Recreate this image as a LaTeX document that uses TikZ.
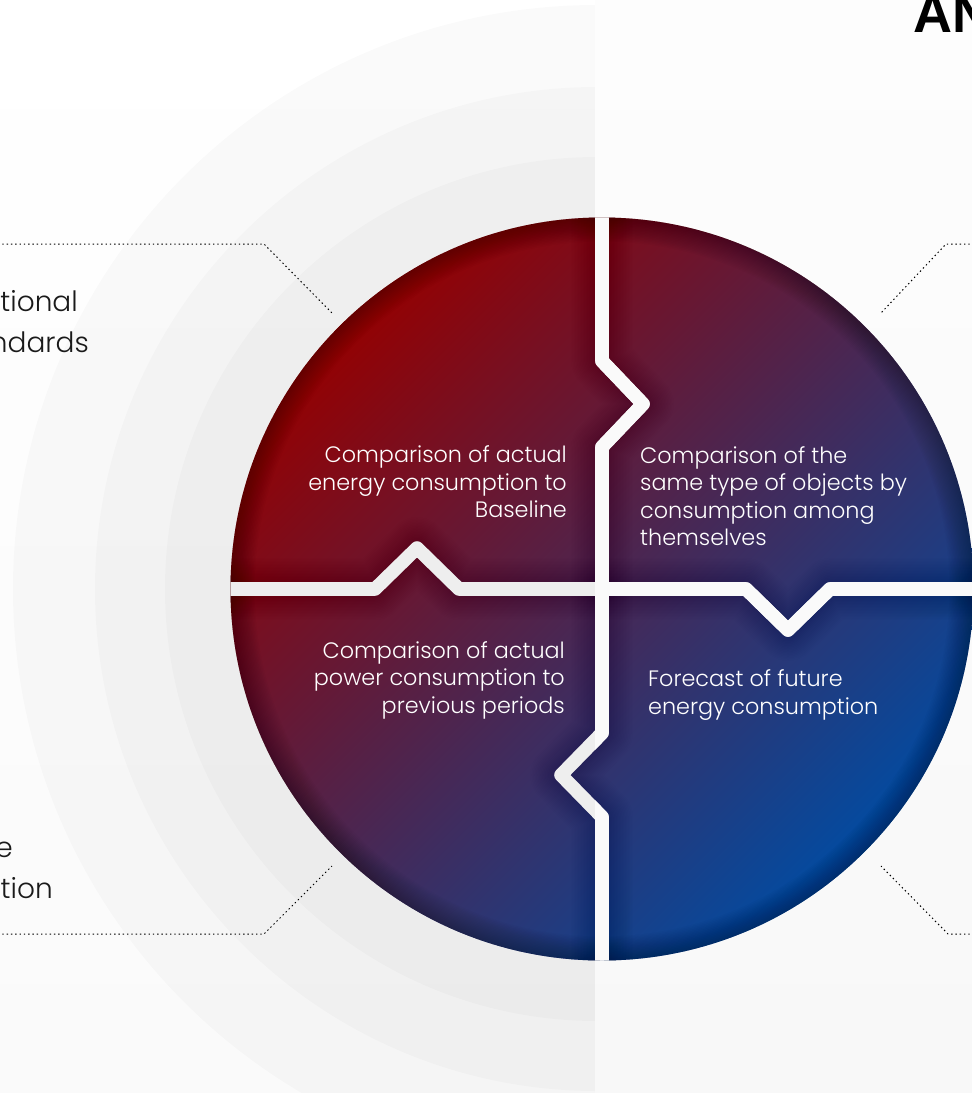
\documentclass[tikz,border=0pt]{standalone}
\usepackage{fontspec}
\setmainfont{Poppins Light}
\newfontfamily\titlefont[Scale=1]{Liberation Sans}
\definecolor{bgbottom}{HTML}{FAFAFA}
\definecolor{bandl}{HTML}{EEEEEE}
\definecolor{bandr}{HTML}{FAFAFA}
\definecolor{paneltop}{HTML}{FDFDFD}
\definecolor{panelbottom}{HTML}{F8F8F8}
\definecolor{startred}{HTML}{960000}
\definecolor{endblue}{HTML}{004CA3}
\definecolor{inktext}{HTML}{1A1A1A}
\tikzset{
  inner/.style={text=white,font=\fontsize{22.3}{27.5}\selectfont,inner sep=0pt,align=#1},
  outer/.style={text=inktext,font=\fontsize{28}{41}\selectfont,inner sep=0pt,align=right},
  leader/.style={draw=black,line width=1pt,dash pattern=on 1.4pt off 2.9pt},
  bandline/.style={line width=13.6pt,line join=round,line cap=butt},
  ringdisc/.style={fill=black,fill opacity=0.02}
}
\newcommand{\allbands}[1]{%
  \draw[#1] (602,200) -- (602,361) -- (643,404) -- (602,447) -- (602,733) -- (561,775) -- (602,817) -- (602,980);
  \draw[#1] (215,589) -- (375,589) -- (417,548) -- (459,589) -- (746,589) -- (788,630) -- (830,589) -- (990,589);
}
\begin{document}
\begin{tikzpicture}[x=1pt,y=-1pt]
\useasboundingbox (0,0) rectangle (972,1093);
\shade[top color=white,bottom color=bgbottom] (0,0) rectangle (972,1093);
% half discs
\begin{scope}
  \clip (0,0) rectangle (595,1093);
  \path[ringdisc] (597,589) circle[radius=584];
  \path[ringdisc] (597,589) circle[radius=502];
  \path[ringdisc] (597,589) circle[radius=432];
\end{scope}
% right panel
\shade[top color=paneltop,bottom color=panelbottom] (595,0) rectangle (972,1093);
% disc
\begin{scope}
  \clip (602,589) circle[radius=371.5];
  \begin{scope}[transform canvas={rotate around={-45:(602,589)}}]
    \shade[left color=startred,right color=endblue] (228,200) rectangle (976,978);
  \end{scope}
  \foreach \w in {3,6,...,48}{
    \draw[black,opacity=0.02,line width=\w pt] (602,589) circle[radius=371.5];
    \allbands{black,opacity=0.008,line width=13.6pt+\w pt,line join=round}
  }
  \allbands{bandline,bandl}
  \begin{scope}
    \clip (595,0) rectangle (972,1093);
    \allbands{bandline,bandr}
  \end{scope}
\end{scope}
% leaders
\coordinate (tlA) at (-2,244); \coordinate (tlB) at (264,244); \coordinate (tlC) at (332,313);
\coordinate (trA) at (974,244); \coordinate (trB) at (946,244); \coordinate (trC) at (881,313);
\coordinate (blA) at (-2,934); \coordinate (blB) at (264,934); \coordinate (blC) at (332,866);
\coordinate (brA) at (974,934); \coordinate (brB) at (948,934); \coordinate (brC) at (881,866);
\draw[leader] (tlA) -- (tlB) -- (tlC);
\draw[leader] (trA) -- (trB) -- (trC);
\draw[leader] (blA) -- (blB) -- (blC);
\draw[leader] (brA) -- (brB) -- (brC);
% texts
\node[inner=right,anchor=east] (qa) at (567,482) {Comparison of actual\\energy consumption to\\Baseline};
\node[inner=left,anchor=west] (qb) at (640,496) {Comparison of the\\same type of objects by\\consumption among\\themselves};
\node[inner=right,anchor=east] (qc) at (565,680) {Comparison of actual\\power consumption to\\previous periods};
\node[inner=left,anchor=west] (qd) at (648,695) {Forecast of future\\energy consumption};
\node[outer,anchor=east] (ol) at (78,301) {tional};
\node[outer,anchor=east] (om) at (89,342) {ndards};
\node[outer,anchor=east] (on) at (13,850) {e};
\node[outer,anchor=east] (oo) at (53,888) {tion};
\node[text=black,font=\titlefont\bfseries\fontsize{54}{54}\selectfont,inner sep=0pt,anchor=base west] (ttl) at (913,32) {AN};
\end{tikzpicture}
\end{document}
